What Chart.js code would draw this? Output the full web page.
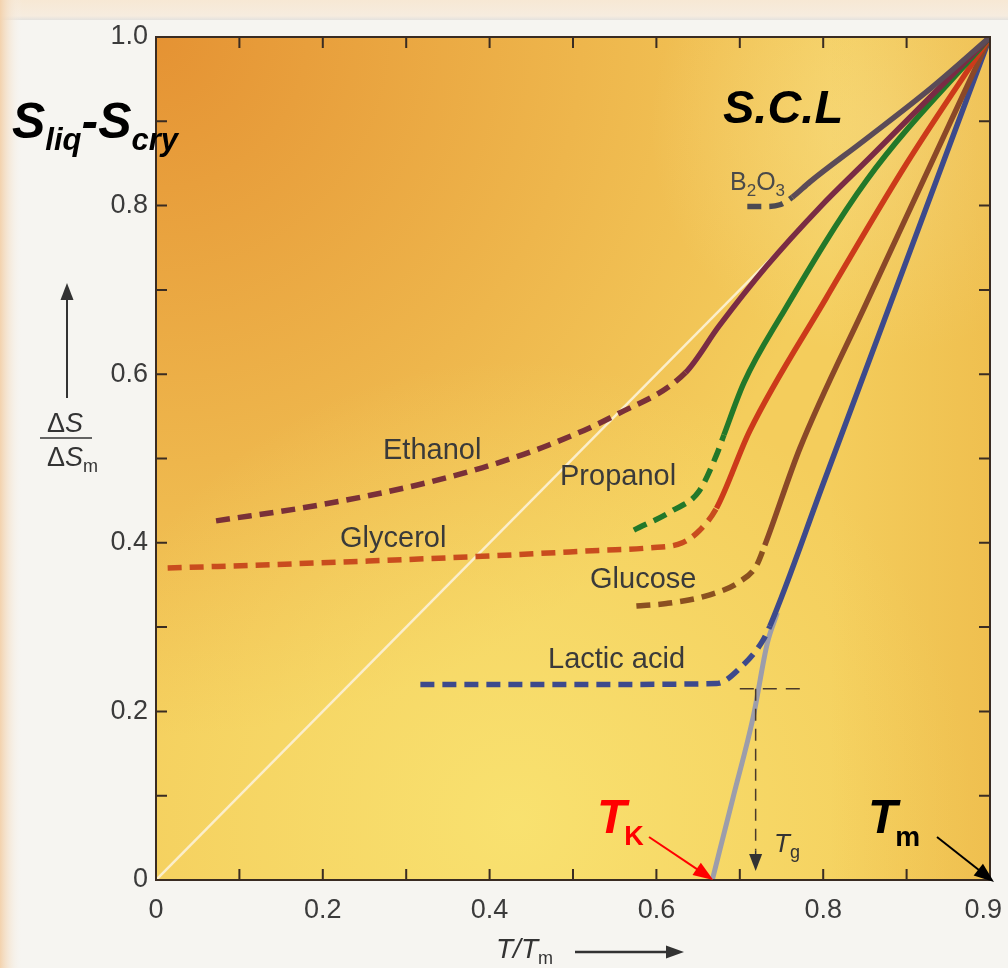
<!DOCTYPE html>
<html>
<head>
<meta charset="utf-8">
<script src="https://cdn.jsdelivr.net/npm/chart.js@4.4.1/dist/chart.umd.min.js"></script>
<style>
  html, body { margin: 0; padding: 0; background: #f6f5f1; }
  #wrap { width: 1008px; height: 968px; }
</style>
</head>
<body>
<div id="wrap"><canvas id="c" width="1008" height="968"></canvas></div>
<script>
// axis ticks (the right-most label reads 0.9 in the source figure)
const xTickValues = [0, 0.2, 0.4, 0.6, 0.8, 1.0];
const xTickLabels = ['0', '0.2', '0.4', '0.6', '0.8', '0.9\u2002'];
const yTickValues = [0, 0.2, 0.4, 0.6, 0.8, 1.0];
const yTickLabels = ['0', '0.2', '0.4', '0.6', '0.8', '1.0'];
const minorTicks = [0.1, 0.2, 0.3, 0.4, 0.5, 0.6, 0.7, 0.8, 0.9];

// each substance: glass branch (dashed) and supercooled liquid branch (solid)
const b2o3GlassT = [0.709, 0.730, 0.748, 0.763];
const b2o3GlassS = [0.799, 0.799, 0.801, 0.810];
const b2o3LiqT = [0.784, 0.850, 0.930, 1.0];
const b2o3LiqS = [0.828, 0.878, 0.940, 1.0];

const ethanolGlassT = [0.072, 0.191, 0.311, 0.391, 0.471, 0.552, 0.635];
const ethanolGlassS = [0.426, 0.444, 0.468, 0.489, 0.516, 0.552, 0.602];
const ethanolLiqT = [0.675, 0.732, 0.796, 0.856, 1.0];
const ethanolLiqS = [0.657, 0.728, 0.798, 0.857, 1.0];

const propanolGlassT = [0.573, 0.619, 0.651, 0.672, 0.681];
const propanolGlassS = [0.415, 0.438, 0.461, 0.504, 0.528];
const propanolLiqT = [0.705, 0.750, 0.852, 1.0];
const propanolLiqS = [0.590, 0.670, 0.830, 1.0];

const glycerolGlassT = [0.014, 0.191, 0.391, 0.531, 0.591, 0.631, 0.651, 0.672];
const glycerolGlassS = [0.370, 0.376, 0.384, 0.391, 0.394, 0.400, 0.414, 0.441];
const glycerolLiqT = [0.712, 0.804, 0.900, 1.0];
const glycerolLiqS = [0.533, 0.691, 0.850, 1.0];

const glucoseGlassT = [0.576, 0.612, 0.663, 0.700, 0.720, 0.730];
const glucoseGlassS = [0.325, 0.328, 0.338, 0.354, 0.373, 0.397];
const glucoseLiqT = [0.772, 0.852, 1.0];
const glucoseLiqS = [0.512, 0.685, 1.0];

const lacticGlassT = [0.317, 0.531, 0.672, 0.703, 0.727, 0.736];
const lacticGlassS = [0.232, 0.232, 0.233, 0.254, 0.283, 0.301];
const lacticLiqT = [0.800, 0.900, 1.0];
const lacticLiqS = [0.470, 0.735, 1.0];

// extrapolation of lactic acid liquid to zero excess entropy (Kauzmann)
const kauzmannT = [0.667, 0.692, 0.716, 0.733, 0.745];
const kauzmannS = [0.0, 0.098, 0.193, 0.281, 0.317];

// thin reference diagonal
const diagT = [0, 1];
const diagS = [0, 1];

// Tg construction for lactic acid
const tgValue = 0.719;
const tgS = 0.227;
const tgLineT = [0.700, 0.780];

const FONT = '"Liberation Sans", Arial, Helvetica, sans-serif';
Chart.defaults.font.family = FONT;

function pts(ts, ss) { return ts.map((t, i) => ({ x: t, y: ss[i] })); }

function substance(name, gT, gS, lT, lS, color, glassColor) {
  const data = pts(gT, gS).concat(pts(lT, lS));
  const nGlass = gT.length;
  return {
    label: name,
    data: data,
    borderColor: color,
    borderWidth: 5.5,
    pointRadius: 0,
    cubicInterpolationMode: 'monotone',
    segment: {
      borderDash: c => (c.p1DataIndex < nGlass ? [14, 8] : undefined),
      borderColor: c => (c.p1DataIndex < nGlass ? glassColor : color)
    }
  };
}

const datasets = [
  substance('B2O3', b2o3GlassT, b2o3GlassS, b2o3LiqT, b2o3LiqS, '#5b4b58', '#4c4a52'),
  substance('Ethanol', ethanolGlassT, ethanolGlassS, ethanolLiqT, ethanolLiqS, '#7a2b44', '#7a3038'),
  substance('Propanol', propanolGlassT, propanolGlassS, propanolLiqT, propanolLiqS, '#22782a', '#22782a'),
  substance('Glycerol', glycerolGlassT, glycerolGlassS, glycerolLiqT, glycerolLiqS, '#cc3a1a', '#c94c1e'),
  substance('Glucose', glucoseGlassT, glucoseGlassS, glucoseLiqT, glucoseLiqS, '#8a4828', '#8b5020'),
  substance('Lactic acid', lacticGlassT, lacticGlassS, lacticLiqT, lacticLiqS, '#3d4a8c', '#3d4a8c'),
  {
    label: 'Tg horizontal', data: pts(tgLineT, [tgS, tgS]),
    borderColor: '#4a3a2a', borderWidth: 1.5, borderDash: [14, 9], pointRadius: 0
  },
  {
    label: 'Tg vertical', data: pts([tgValue, tgValue], [tgS, 0.035]),
    borderColor: '#4a3a2a', borderWidth: 1.5, borderDash: [12, 8], pointRadius: 0
  },
  {
    label: 'Kauzmann', data: pts(kauzmannT, kauzmannS),
    borderColor: '#9c9dab', borderWidth: 5, pointRadius: 0, cubicInterpolationMode: 'monotone'
  },
  {
    label: 'diagonal', data: pts(diagT, diagS),
    borderColor: '#fbeecb', borderWidth: 2.5, pointRadius: 0
  }
];

function arrow(ctx, x1, y1, x2, y2, color, w, headLen, headW) {
  const a = Math.atan2(y2 - y1, x2 - x1);
  ctx.save();
  ctx.strokeStyle = color; ctx.fillStyle = color; ctx.lineWidth = w;
  ctx.beginPath();
  ctx.moveTo(x1, y1);
  ctx.lineTo(x2 - Math.cos(a) * headLen * 0.8, y2 - Math.sin(a) * headLen * 0.8);
  ctx.stroke();
  ctx.beginPath();
  ctx.moveTo(x2, y2);
  ctx.lineTo(x2 - Math.cos(a) * headLen + Math.sin(a) * headW / 2, y2 - Math.sin(a) * headLen - Math.cos(a) * headW / 2);
  ctx.lineTo(x2 - Math.cos(a) * headLen - Math.sin(a) * headW / 2, y2 - Math.sin(a) * headLen + Math.cos(a) * headW / 2);
  ctx.closePath();
  ctx.fill();
  ctx.restore();
}

// draw a run of text pieces left to right: [text, font, dy, extra]
function rich(ctx, x, y, parts, color) {
  ctx.save();
  ctx.fillStyle = color;
  ctx.textBaseline = 'alphabetic';
  ctx.textAlign = 'left';
  let cx = x;
  parts.forEach(p => {
    ctx.font = p[1];
    ctx.fillText(p[0], cx, y + (p[2] || 0));
    cx += ctx.measureText(p[0]).width + (p[3] || 0);
  });
  ctx.restore();
}

function radial(ctx, a, x, y, r, c0, c1) {
  const g = ctx.createRadialGradient(x, y, 0, x, y, r);
  g.addColorStop(0, c0); g.addColorStop(1, c1);
  ctx.fillStyle = g;
  ctx.fillRect(a.left, a.top, a.right - a.left, a.bottom - a.top);
}

const decor = {
  id: 'decor',
  beforeDraw(chart) {
    const ctx = chart.ctx;
    const a = chart.chartArea;
    ctx.save();
    ctx.fillStyle = '#f6f5f1';
    ctx.fillRect(0, 0, chart.width, chart.height);
    let g = ctx.createLinearGradient(0, 0, 0, 20);
    g.addColorStop(0, '#f7e8d4'); g.addColorStop(0.8, '#f6ecdf'); g.addColorStop(1, '#e4e2de');
    ctx.fillStyle = g; ctx.fillRect(0, 0, chart.width, 20);
    g = ctx.createLinearGradient(0, 0, 22, 0);
    g.addColorStop(0, '#f3d2ad'); g.addColorStop(1, 'rgba(246,245,241,0)');
    ctx.fillStyle = g; ctx.fillRect(0, 0, 22, chart.height);

    // plot background: orange toward the top-left, yellow lower down
    ctx.fillStyle = '#f4cd5c';
    ctx.fillRect(a.left, a.top, a.right - a.left, a.bottom - a.top);
    radial(ctx, a, a.left, a.top, 700, 'rgba(226,136,44,0.85)', 'rgba(226,136,44,0)');
    radial(ctx, a, a.left + 360, a.bottom - 60, 460, 'rgba(250,232,118,0.75)', 'rgba(250,232,118,0)');
    radial(ctx, a, a.right - 110, a.top + 90, 230, 'rgba(248,224,140,0.55)', 'rgba(248,224,140,0)');
    g = ctx.createLinearGradient(a.right - 160, 0, a.right, 0);
    g.addColorStop(0, 'rgba(228,160,50,0)'); g.addColorStop(1, 'rgba(228,160,50,0.3)');
    ctx.fillStyle = g;
    ctx.fillRect(a.right - 160, a.top, 160, a.bottom - a.top);
    ctx.restore();
  },
  afterDraw(chart) {
    const ctx = chart.ctx;
    const a = chart.chartArea;
    const xs = chart.scales.x, ys = chart.scales.y;
    const px = v => xs.getPixelForValue(v);
    const py = v => ys.getPixelForValue(v);

    // frame and inward ticks
    ctx.save();
    ctx.strokeStyle = '#3a2c22';
    ctx.lineWidth = 2;
    ctx.strokeRect(a.left, a.top, a.right - a.left, a.bottom - a.top);
    minorTicks.forEach(v => {
      ctx.beginPath();
      ctx.moveTo(px(v), a.bottom); ctx.lineTo(px(v), a.bottom - 11);
      ctx.moveTo(px(v), a.top); ctx.lineTo(px(v), a.top + 11);
      ctx.moveTo(a.left, py(v)); ctx.lineTo(a.left + 11, py(v));
      ctx.moveTo(a.right, py(v)); ctx.lineTo(a.right - 11, py(v));
      ctx.stroke();
    });
    ctx.restore();

    const dark = '#3a3a3a';
    const lab = '29px ' + FONT;
    rich(ctx, 383, 459, [['Ethanol', lab]], dark);
    rich(ctx, 560, 485, [['Propanol', lab]], dark);
    rich(ctx, 340, 547, [['Glycerol', lab]], dark);
    rich(ctx, 590, 588, [['Glucose', lab]], dark);
    rich(ctx, 548, 668, [['Lactic acid', lab]], dark);
    rich(ctx, 730, 190, [['B', '25px ' + FONT], ['2', '17px ' + FONT, 6], ['O', '25px ' + FONT], ['3', '17px ' + FONT, 6]], '#4a4a4a');

    rich(ctx, 723, 123, [['S.C.L', 'italic bold 47px ' + FONT]], '#000');
    rich(ctx, 12, 138, [['S', 'italic bold 50px ' + FONT], ['liq', 'italic bold 31px ' + FONT, 12],
      ['-', 'italic bold 50px ' + FONT], ['S', 'italic bold 50px ' + FONT], ['cry', 'italic bold 31px ' + FONT, 12]], '#000');

    // T_K
    rich(ctx, 597, 833, [['T', 'italic bold 48px ' + FONT, 0, -2], ['K', 'bold 27px ' + FONT, 12]], '#ff0000');
    arrow(ctx, 649, 837, px(kauzmannT[0]) + 1, a.bottom, '#ff0000', 2, 20, 15);
    // T_m
    rich(ctx, 868, 833, [['T', 'italic bold 48px ' + FONT, 0, -2], ['m', 'bold 28px ' + FONT, 13]], '#000');
    arrow(ctx, 937, 837, a.right + 4, a.bottom + 2, '#000', 2, 20, 15);
    // T_g
    rich(ctx, 774, 852, [['T', 'italic 26px ' + FONT], ['g', '18px ' + FONT, 6]], '#333');
    arrow(ctx, px(tgValue), py(0.035), px(tgValue), 871, '#333', 1.5, 17, 13);

    // y-axis title: arrow and fraction
    arrow(ctx, 67, 398, 67, 283, '#333', 2, 17, 13);
    rich(ctx, 47, 432, [['Δ', '27px ' + FONT], ['S', 'italic 27px ' + FONT]], '#333');
    ctx.save();
    ctx.strokeStyle = '#333'; ctx.lineWidth = 1.5;
    ctx.beginPath(); ctx.moveTo(40, 438); ctx.lineTo(92, 438); ctx.stroke();
    ctx.restore();
    rich(ctx, 47, 466, [['Δ', '27px ' + FONT], ['S', 'italic 27px ' + FONT], ['m', '18px ' + FONT, 6]], '#333');

    // x-axis title with arrow
    rich(ctx, 496, 958, [['T/T', 'italic 28px ' + FONT], ['m', '18px ' + FONT, 6]], '#333');
    arrow(ctx, 575, 952, 684, 952, '#333', 2.5, 18, 13);
  }
};

new Chart(document.getElementById('c'), {
  type: 'scatter',
  data: { datasets: datasets },
  options: {
    responsive: false,
    animation: false,
    showLine: true,
    layout: { padding: { top: 37, right: 18, left: 0, bottom: 0 } },
    plugins: { legend: { display: false }, tooltip: { enabled: false } },
    elements: { line: { borderCapStyle: 'butt', fill: false } },
    scales: {
      x: {
        type: 'linear', min: 0, max: 1,
        afterBuildTicks: s => { s.ticks = xTickValues.map(v => ({ value: v })); },
        afterFit: s => { s.height = 88; s.paddingLeft = 0; s.paddingRight = 0; },
        grid: { display: false, drawTicks: false },
        border: { display: false },
        ticks: {
          autoSkip: false, maxRotation: 0, padding: 14, color: '#3b3b3b',
          font: { size: 27 },
          callback: (v, i) => xTickLabels[i]
        }
      },
      y: {
        type: 'linear', min: 0, max: 1,
        afterBuildTicks: s => { s.ticks = yTickValues.map(v => ({ value: v })); },
        afterFit: s => { s.width = 156; s.paddingTop = 0; s.paddingBottom = 0; },
        grid: { display: false, drawTicks: false },
        border: { display: false },
        ticks: {
          autoSkip: false, padding: 8, color: '#3b3b3b',
          font: { size: 27 },
          callback: (v, i) => yTickLabels[i]
        }
      }
    }
  },
  plugins: [decor]
});
</script>
</body>
</html>
